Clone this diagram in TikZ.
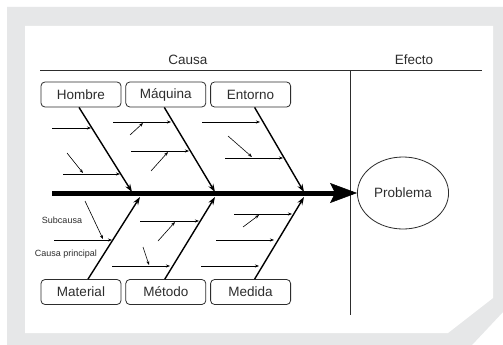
\documentclass[tikz,border=0pt]{standalone}
\usepackage{fontspec}
\setmainfont{Liberation Sans}
\usepackage{tikz}
\usetikzlibrary{arrows.meta,positioning,shapes.geometric}
\definecolor{FrameGray}{RGB}{230,231,232}
\definecolor{InkGray}{RGB}{45,45,45}
\tikzset{
  causebox/.style={rectangle, rounded corners=4pt, draw=InkGray, line width=0.8pt,
                   minimum width=80pt, minimum height=25pt, inner sep=0pt,
                   font=\fontsize{13.5}{15}\selectfont, text=InkGray},
  bone/.style={-{Stealth[length=8pt, width=5.5pt]}, line width=1.4pt, black},
  subarr/.style={-{Stealth[length=4pt, width=3pt]}, line width=0.6pt, black},
  spine/.style={-{Stealth[length=27pt, width=20pt, inset=5pt, line width=0.5pt]}, line width=5pt, black},
  rule/.style={line width=0.8pt, InkGray},
  head/.style={font=\fontsize{13.5}{15}\selectfont, text=InkGray, anchor=base},
  note/.style={font=\fontsize{9}{10}\selectfont, text=InkGray},
}

\begin{document}
\begin{tikzpicture}[x=1pt, y=-1pt, node distance=4pt]
  \useasboundingbox (0,0) rectangle (503,345);
  % frame
  \fill[white] (0,0) rectangle (503,345);
  \fill[FrameGray] (7,7) -- (503,7) -- (503,312) -- (472,345) -- (7,345) -- cycle;
  \fill[white] (25,26) -- (493,26) -- (493,298) -- (448,333) -- (25,333) -- cycle;

  % header
  \node[head] (causa) at (188,65) {Causa};
  \node[head] (efecto) at (414,65) {Efecto};
  \coordinate (ruleL) at (40,70);
  \coordinate (ruleR) at (482,70);
  \coordinate (divTop) at (350,70);
  \coordinate (divBot) at (350,315);
  \draw[rule] (ruleL) -- (ruleR);
  \draw[rule] (divTop) -- (divBot);

  % main causes
  \node[causebox] (hombre) at (81,94.5) {Hombre};
  \node[causebox, right=of hombre] (maquina) {Máquina};
  \node[causebox, right=of maquina] (entorno) {Entorno};
  \node[causebox] (material) at (81,292) {Material};
  \node[causebox, right=of material] (metodo) {Método};
  \node[causebox, right=of metodo] (medida) {Medida};

  % effect and spine
  \node[ellipse, draw=InkGray, line width=0.8pt, minimum width=91pt, minimum height=72pt,
        font=\fontsize{13.5}{15}\selectfont, text=InkGray] (problema) at (403,193) {Problema};
  \coordinate (tail) at (52,193);
  \draw[spine] (tail) -- (problema.west);

  % bones
  \coordinate (jh) at (132,192);
  \coordinate (jq) at (215,192);
  \coordinate (je) at (304,192);
  \coordinate (jm) at (140,197);
  \coordinate (jt) at (215,197);
  \coordinate (jd) at (304,197);
  \draw[bone] ([xshift=-2pt]hombre.south) -- (jh);
  \draw[bone] ([xshift=-1.5pt]maquina.south) -- (jq);
  \draw[bone] ([xshift=4pt]entorno.south) -- (je);
  \draw[bone] ([xshift=7pt]material.north) -- (jm);
  \draw[bone] ([xshift=-1pt]metodo.north) -- (jt);
  \draw[bone] ([xshift=4pt]medida.north) -- (jd);

  % sub-causes
  \foreach \ax/\ay/\bx/\by [count=\i] in {
      52/128/91/128, 63/174/120/174, 67/153/83/173,
      113/122/171/122, 130/135/143/123, 131/151/189/151, 151/171/168/152,
      202/122/260/122, 228/136/252/157, 225/158/283/158,
      54/240/112/240, 85/201/103/239,
      140/221/199/221, 158/241/175/222, 143/247/149/265, 112/266/170/266,
      234/214/292/214, 243/227/259/215, 216/240/274/240, 201/266/259/266} {
    \coordinate (sa\i) at (\ax,\ay);
    \coordinate (sb\i) at (\bx,\by);
    \draw[subarr] (sa\i) -- (sb\i);
  }

  \node[note] (subcausa) at (62,220) {Subcausa};
  \node[note] (principal) at (66,254) {Causa principal};
\end{tikzpicture}
\end{document}
